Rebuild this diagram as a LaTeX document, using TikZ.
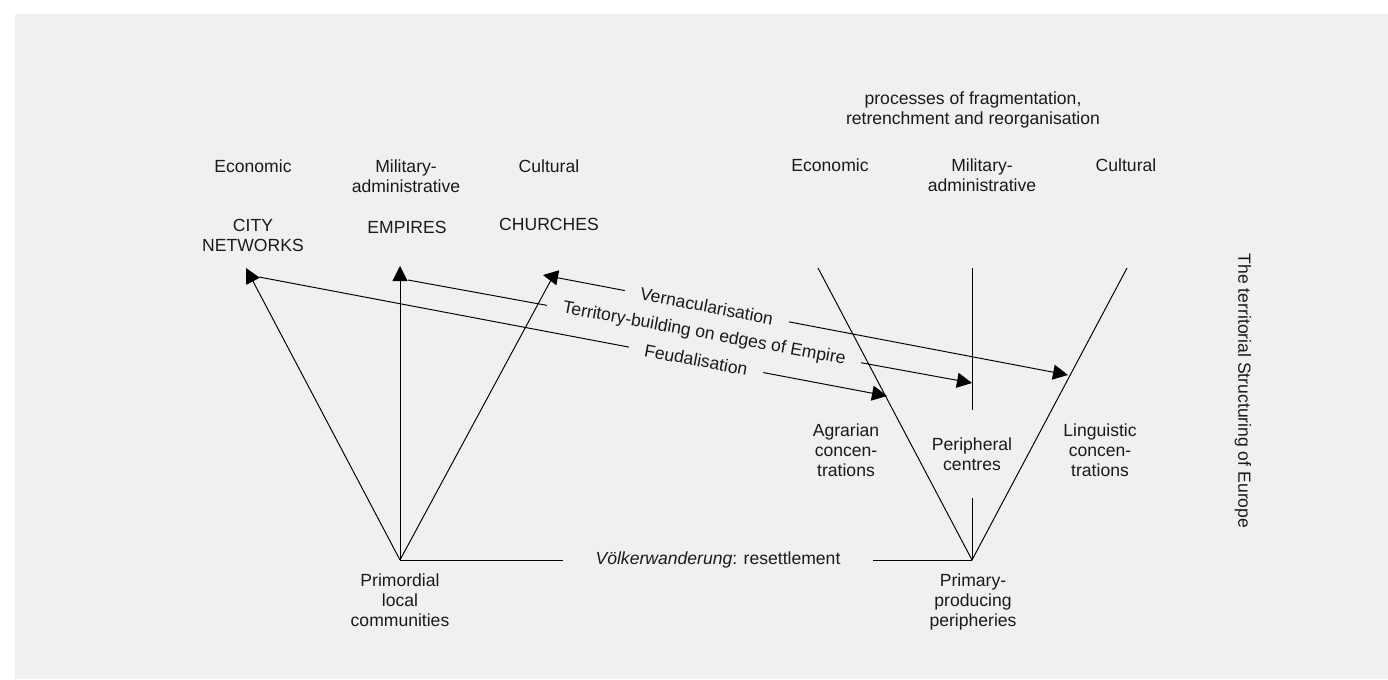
\documentclass[tikz,border=0pt]{standalone}
\usepackage{fontspec}
\setmainfont{Liberation Sans}
\usetikzlibrary{arrows.meta}
\definecolor{bggrey}{HTML}{F0F0F0}
\definecolor{ink}{HTML}{1A1A1A}

\begin{document}
\begin{tikzpicture}[
		x=0.02cm, y=-0.02cm,
		every node/.style={font=\fontsize{10}{11.2}\selectfont, align=center, text=ink, inner sep=0pt},
		lbl/.style={anchor=base},
		head/.tip={Triangle[length=0.3cm, width=0.3cm]},
		thinline/.style={draw=black, line width=0.55pt},
		arr/.style={thinline, -head},
		biarr/.style={thinline, head-head},
		gaplbl/.style={fill=bggrey, sloped, inner xsep=0.32cm, inner ysep=0pt}
	]
		\fill[bggrey] (15,14) rectangle (1388,679);
		\useasboundingbox (0,0) rectangle (1388,679);

		% left: integration
		\node[lbl] (ecoL) at (253,172) {Economic};
		\node[lbl] (milL) at (406,192) {Military-\\administrative};
		\node[lbl] (culL) at (549,172) {Cultural};
		\node[lbl] (city) at (253,251) {CITY\\NETWORKS};
		\node[lbl] (empires) at (407,233) {EMPIRES};
		\node[lbl] (churches) at (549,230) {CHURCHES};
		\node[lbl] (primordial) at (400,626) {Primordial\\local\\communities};

		% right: fragmentation
		\node[lbl] (fragment) at (973,124) {processes of fragmentation,\\retrenchment and reorganisation};
		\node[lbl] (ecoR) at (830,171) {Economic};
		\node[lbl] (milR) at (982,191) {Military-\\administrative};
		\node[lbl] (culR) at (1126,171) {Cultural};
		\node[lbl] (agrarian) at (846,476) {Agrarian\\concen-\\trations};
		\node[minimum height=1.76cm] (peripheral) at (972,454) {Peripheral\\centres};
		\node[lbl] (linguistic) at (1100,476) {Linguistic\\concen-\\trations};
		\node[lbl] (primary) at (973,626) {Primary-\\producing\\peripheries};

		\node[rotate=-90] (title) at (1243,391) {The territorial Structuring of Europe};
		\node[minimum width=6.2cm] (settle) at (718,560) {\textit{Völkerwanderung}: resettlement};

		\coordinate (plcA) at (400,560);
		\coordinate (ppA) at (972,560);
		\coordinate (cityT) at (246,268);
		\coordinate (cityB) at (259,277);
		\coordinate (empT) at (400,266);
		\coordinate (empB) at (408,280);
		\coordinate (chuT) at (543,275);
		\coordinate (chuB) at (551,280);
		\coordinate (agrT) at (887,396);
		\coordinate (perT) at (972,383);
		\coordinate (linT) at (1068,375);
		\coordinate (vL) at (818,268);
		\coordinate (vM) at (972,268);
		\coordinate (vR) at (1127,268);

		\draw[arr] (plcA) -- (cityT);
		\draw[arr] (plcA) -- (empT);
		\draw[thinline] (plcA) -- (chuB);

		\draw[arr] (cityB) -- node[gaplbl, pos=0.696] {Feudalisation} (agrT);
		\draw[arr] (empB) -- node[gaplbl, pos=0.525] {Territory-building on edges of Empire} (perT);
		\draw[biarr] (chuT) -- node[gaplbl, pos=0.312] {Vernacularisation} (linT);

		\draw[thinline] (vL) -- (ppA) -- (vR);
		\draw[thinline] (vM) -- (peripheral.north);
		\draw[thinline] (peripheral.south) -- (ppA);
		\draw[thinline] (plcA) -- (settle.west);
		\draw[thinline] (settle.east) -- (ppA);
	\end{tikzpicture}
\end{document}
